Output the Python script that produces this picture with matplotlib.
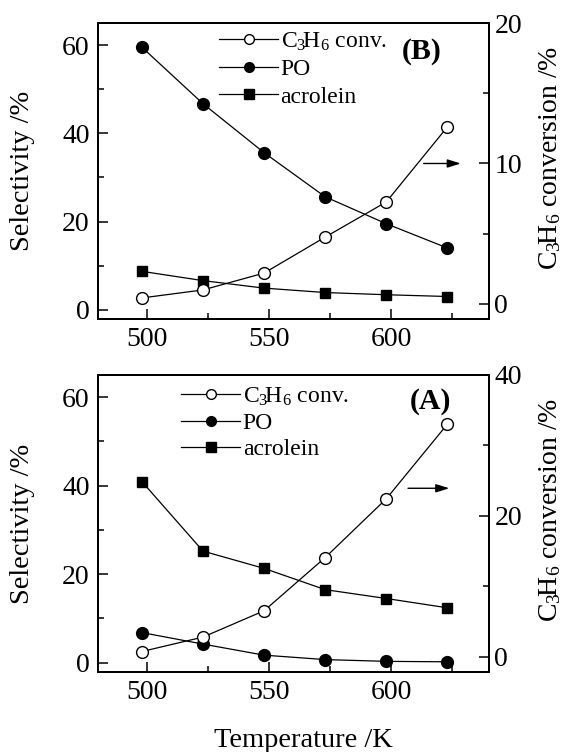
import matplotlib
matplotlib.use("Agg")
import matplotlib.pyplot as plt
from matplotlib.ticker import MultipleLocator
from matplotlib.lines import Line2D

plt.rcParams['font.family'] = ['Liberation Serif', 'DejaVu Serif']
plt.rcParams['mathtext.fontset'] = 'custom'
plt.rcParams['mathtext.rm'] = 'Liberation Serif'
plt.rcParams['mathtext.it'] = 'Liberation Serif:italic'
plt.rcParams['mathtext.bf'] = 'Liberation Serif:bold'

# temperature /K
T = [498, 523, 548, 573, 598, 623]

# panel (B)
po_B = [59.5, 46.7, 35.6, 25.6, 19.5, 14.0]
acro_B = [8.7, 6.6, 4.9, 3.9, 3.4, 3.0]
conv_B = [0.43, 1.0, 2.2, 4.76, 7.26, 12.6]

# panel (A)
po_A = [6.8, 4.2, 1.7, 0.7, 0.3, 0.2]
acro_A = [40.9, 25.2, 21.3, 16.5, 14.5, 12.4]
conv_A = [0.71, 2.76, 6.5, 14.06, 22.4, 33.0]

conv_label = 'C$_\\mathregular{3}\\!$H$_\\mathregular{6}$ conv.'
right_label = 'C$_\\mathregular{3}\\!$H$_\\mathregular{6}$ conversion /%'

fig = plt.figure(figsize=(5.74, 7.52), dpi=100)
ax_top = fig.add_axes([0.1707, 0.5758, 0.681, 0.3936])
ax_bot = fig.add_axes([0.1707, 0.1064, 0.681, 0.395])

lw = 0.9
ms = 8.5


def panel(ax, po, acro, conv, rlim, rmajor, rminor, tag, tagxy, arrow, leg_anchor, labsp):
    ax.plot(T, po, '-', color='k', lw=lw, marker='o', ms=ms, mfc='k', mec='k')
    ax.plot(T, acro, '-', color='k', lw=lw, marker='s', ms=ms - 0.8, mfc='k', mec='k')
    ax.set_xlim(480, 640)
    ax.set_ylim(-2.1, 65)
    ax.xaxis.set_major_locator(MultipleLocator(50))
    ax.xaxis.set_minor_locator(MultipleLocator(25))
    ax.yaxis.set_major_locator(MultipleLocator(20))
    ax.yaxis.set_minor_locator(MultipleLocator(10))
    ax.tick_params(which='both', direction='in', top=False, right=False, labelsize=20, width=1.1)
    ax.tick_params(which='major', length=7, pad=6)
    ax.tick_params(which='minor', length=4)
    ax.set_ylabel('Selectivity /%', fontsize=20.5)
    ax.yaxis.set_label_coords(-0.16, 0.5)
    for s in ax.spines.values():
        s.set_linewidth(1.4)

    ax2 = ax.twinx()
    ax2.plot(T, conv, '-', color='k', lw=lw, marker='o', ms=ms, mfc='white', mec='k', mew=1.0)
    ax2.set_ylim(*rlim)
    ax2.yaxis.set_major_locator(MultipleLocator(rmajor))
    ax2.yaxis.set_minor_locator(MultipleLocator(rminor))
    ax2.tick_params(which='both', direction='in', labelsize=20, width=1.1)
    ax2.tick_params(which='major', length=7, pad=4)
    ax2.tick_params(which='minor', length=4)
    ax2.set_ylabel(right_label, fontsize=20)
    ax2.yaxis.set_label_coords(1.124, 0.545)
    for s in ax2.spines.values():
        s.set_linewidth(1.4)

    ax2.text(tagxy[0], tagxy[1], tag, transform=ax.transAxes, fontsize=21.5,
             fontweight='bold', ha='center', va='center')
    ax2.annotate('', xy=(arrow[1], arrow[2]), xytext=(arrow[0], arrow[2]),
                 arrowprops=dict(arrowstyle='-|>,head_length=0.8,head_width=0.25',
                                 color='k', lw=1.0, shrinkA=0, shrinkB=0))

    handles = [
        Line2D([], [], color='k', lw=lw, marker='o', ms=ms - 1.5, mfc='white', mec='k'),
        Line2D([], [], color='k', lw=lw, marker='o', ms=ms - 1.5, mfc='k', mec='k'),
        Line2D([], [], color='k', lw=lw, marker='s', ms=ms - 2, mfc='k', mec='k'),
    ]
    ax2.legend(handles, [conv_label, 'PO', 'acrolein'], loc='upper left',
               bbox_to_anchor=leg_anchor, frameon=False, fontsize=17,
               handlelength=2.5, handletextpad=0.1, borderpad=0, borderaxespad=0,
               labelspacing=labsp)
    return ax2


panel(ax_top, po_B, acro_B, conv_B, (-1.07, 20), 10, 5, '(B)', (0.829, 0.903),
      (613.3, 628.5, 10), (0.31, 0.975), 0.25)
panel(ax_bot, po_A, acro_A, conv_A, (-2.2, 40), 20, 10, '(A)', (0.85, 0.91),
      (606.9, 623.8, 23.9), (0.213, 0.965), 0.2)

ax_bot.set_xlabel('Temperature /K', fontsize=20.5)
ax_bot.xaxis.set_label_coords(0.526, -0.19)

fig.savefig('out.png', dpi=100)
